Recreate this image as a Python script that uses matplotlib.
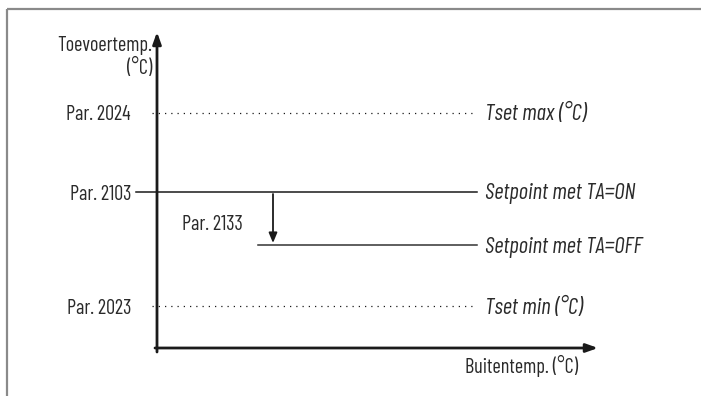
import matplotlib
matplotlib.use("Agg")
import matplotlib.pyplot as plt

# ---- data (schematic levels, in diagram units) ----
level_names = ["Tset max (°C)", "Setpoint met TA=ON", "Setpoint met TA=OFF", "Tset min (°C)"]
level_params = ["Par. 2024", "Par. 2103", "", "Par. 2023"]
level_values = [235, 156, 103, 42]
level_styles = ["dotted", "solid", "solid", "dotted"]
offset_param = "Par. 2133"
y_axis_label = ["Toevoertemp.", "(°C)"]
x_axis_label = "Buitentemp. (°C)"

plt.rcParams["font.family"] = ["Barlow Condensed", "DejaVu Sans"]

W, H = 701, 396
fig = plt.figure(figsize=(W / 100, H / 100), dpi=100)
ax = fig.add_axes([0, 0, 1, 1])
ox, oy = 157, 348
ax.set_xlim(-ox, W - ox)
ax.set_ylim(oy - H, oy)
ax.axis("off")

fs = 14.6
fs_it = 16.5
txt_col = "#2a2a2a"
line_col = "#1a1a1a"

# frame (partial border)
border = "#8a8a8a"
ax.plot([-ox + 6.5, W - ox], [oy - 8.5, oy - 8.5], color=border, lw=1.6, solid_capstyle="butt")
ax.plot([-ox + 6.5, -ox + 6.5], [oy - 8.5, oy - H], color=border, lw=1.6, solid_capstyle="butt")

# axes arrows
ax.annotate("", xy=(0, 316), xytext=(0, -4),
            arrowprops=dict(arrowstyle="-|>,head_length=0.7,head_width=0.25", lw=2.0, color=line_col, shrinkA=0, shrinkB=0))
ax.annotate("", xy=(441, 0), xytext=(-2, 0),
            arrowprops=dict(arrowstyle="-|>,head_length=0.7,head_width=0.25", lw=2.0, color=line_col, shrinkA=0, shrinkB=0))

# level lines
x_end = 320
for name, par, val, st in zip(level_names, level_params, level_values, level_styles):
    if st == "dotted":
        ax.plot([-5, x_end], [val, val], color=line_col, lw=0.9, linestyle=(0, (1, 4)))
        ax.text(-26, val - 7.5, par, ha="right", va="baseline", fontsize=fs, color=txt_col)
    else:
        if par:
            ax.plot([-21, x_end], [val, val], color=line_col, lw=1.1)
            ax.text(-26, val - 7.5, par, ha="right", va="baseline", fontsize=fs, color=txt_col)
        else:
            ax.plot([101, x_end], [val, val], color="#333333", lw=1.1)
    ax.text(x_end + 8, val - 7.5, name, ha="left", va="baseline", fontsize=fs_it, style="italic", color=txt_col)

# offset arrow
ax.annotate("", xy=(116, level_values[2] + 2), xytext=(116, level_values[1] - 2),
            arrowprops=dict(arrowstyle="-|>,head_length=0.6,head_width=0.25", lw=1.3, color=line_col, shrinkA=0, shrinkB=0))
ax.text(55, 118.5, offset_param, ha="center", va="baseline", fontsize=fs, color=txt_col)

# axis labels
ax.text(-5, 297, y_axis_label[0], ha="right", va="baseline", fontsize=fs, color=txt_col)
ax.text(-5, 274, y_axis_label[1], ha="right", va="baseline", fontsize=fs, color=txt_col)
ax.text(421, -25, x_axis_label, ha="right", va="baseline", fontsize=fs, color=txt_col)

fig.savefig("out.png", dpi=100)
